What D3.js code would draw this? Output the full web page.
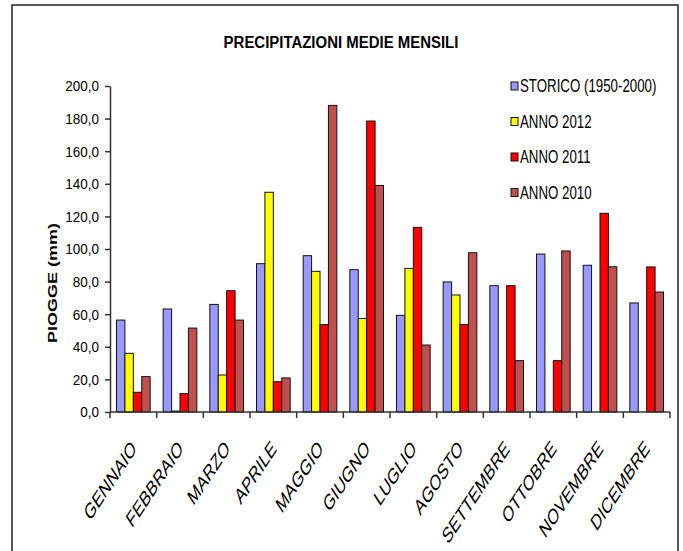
<!DOCTYPE html>
<html><head><meta charset="utf-8">
<script src="https://cdn.jsdelivr.net/npm/d3@7/dist/d3.min.js"></script>
<style>body{margin:0;background:#fff}svg{display:block}text{font-family:"Liberation Sans",Arial,sans-serif;fill:#000}</style>
</head><body><svg width="683" height="551"></svg>
<script>
const months=["GENNAIO","FEBBRAIO","MARZO","APRILE","MAGGIO","GIUGNO","LUGLIO","AGOSTO","SETTEMBRE","OTTOBRE","NOVEMBRE","DICEMBRE"];
const seriesNames=["STORICO (1950-2000)","ANNO 2012","ANNO 2011","ANNO 2010"];
const storico=[56.4,63.2,66.0,91.0,95.9,87.3,59.3,79.8,77.5,96.9,90.0,66.9];
const anno2012=[36.0,0.6,22.7,134.8,86.3,57.4,88.1,71.8,null,null,null,null];
const anno2011=[12.1,11.3,74.4,18.6,53.6,178.5,113.3,53.6,77.5,31.5,121.9,89.0];
const anno2010=[21.7,51.5,56.4,20.9,188.1,139.0,41.1,97.7,31.5,98.8,89.1,73.6];
const yTicks=[0,20,40,60,80,100,120,140,160,180,200];
const colors=["#9999FF","#FFFF00","#FF0000","#C0504D"];
const title="PRECIPITAZIONI MEDIE MENSILI";
const yTitle="PIOGGE  (mm)";

const allSeries=[storico,anno2012,anno2011,anno2010];
const svg=d3.select("svg");
// outer frame
svg.append("rect").attr("x",12).attr("y",5).attr("width",666).attr("height",560)
  .attr("fill","none").attr("stroke","#222").attr("stroke-width",1.5);

const x=d3.scaleBand().domain(months).range([110,670]).paddingInner(0).paddingOuter(0);
const pad=6.5;
const x1=d3.scaleBand().domain(d3.range(4)).range([pad,x.bandwidth()-pad]);
const y=d3.scaleLinear().domain([0,200]).range([412,86]);

// bars
const g=svg.append("g");
months.forEach((m,i)=>{
  allSeries.forEach((s,k)=>{
    const v=s[i];
    if(v==null) return;
    g.append("rect").attr("x",x(m)+x1(k)).attr("y",y(v))
      .attr("width",x1.bandwidth()).attr("height",y(0)-y(v))
      .attr("fill",colors[k]).attr("stroke","#111").attr("stroke-width",1);
  });
});

// y axis
const sxT=0.9;
const ya=svg.append("g").attr("transform","translate(110,0)")
  .call(d3.axisLeft(y).tickValues(yTicks).tickSize(5).tickSizeOuter(0)
    .tickFormat(d=>d.toFixed(1).replace(".",",")));
ya.select(".domain").attr("stroke","#333").attr("stroke-width",1.5);
ya.selectAll(".tick line").attr("stroke","#333").attr("stroke-width",1.5);
ya.selectAll(".tick text").attr("font-size",15).attr("font-family",'"Liberation Sans",Arial,sans-serif')
  .attr("x",-11/sxT).attr("transform",`scale(${sxT},1)`).attr("fill","#000");

// x axis
const xa=svg.append("g");
xa.append("line").attr("x1",110).attr("x2",670).attr("y1",y(0)).attr("y2",y(0)).attr("stroke","#333").attr("stroke-width",1.5);
const bounds=months.map(m=>x(m)).concat([x.range()[1]]);
xa.selectAll("line.t").data(bounds).enter().append("line").attr("class","t")
  .attr("x1",d=>d).attr("x2",d=>d).attr("y1",y(0)).attr("y2",y(0)+6).attr("stroke","#333").attr("stroke-width",1.5);
const sxL=0.66;
xa.selectAll("text.m").data(months).enter().append("text").attr("class","m")
  .attr("transform",d=>`translate(${x(d)+x.bandwidth()/2+4},${y(0)+38}) scale(${sxL},1) rotate(-45)`)
  .attr("text-anchor","end").attr("font-size",22).text(d=>d);

// title
svg.append("text").attr("transform",`translate(341,48) scale(0.88,1)`).attr("text-anchor","middle")
  .attr("font-size",17).attr("font-weight","bold").text(title);

// y title
svg.append("text").attr("transform",`translate(57,283) scale(0.76,1) rotate(-90)`).attr("text-anchor","middle")
  .attr("font-size",18).attr("font-weight","bold").text(yTitle);

// legend
const sxG=0.76;
const lg=svg.append("g");
seriesNames.forEach((n,k)=>{
  const yy=86+k*35.5;
  lg.append("rect").attr("x",511).attr("y",yy-4).attr("width",7).attr("height",8)
    .attr("fill",colors[k]).attr("stroke","#111").attr("stroke-width",1);
  lg.append("text").attr("transform",`translate(520,${yy+6}) scale(${sxG},1)`)
    .attr("font-size",17.5).text(n);
});
</script></body></html>
